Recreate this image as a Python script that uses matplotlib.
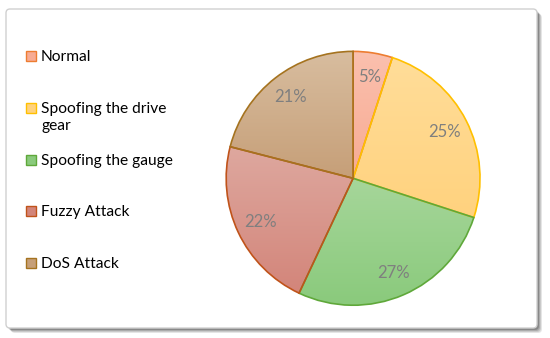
import numpy as np
import matplotlib
matplotlib.use("Agg")
import matplotlib.pyplot as plt
from matplotlib.patches import FancyBboxPatch, Rectangle
from matplotlib.colors import LinearSegmentedColormap

# data
categories = ["Normal", "Spoofing the drive\ngear", "Spoofing the gauge",
              "Fuzzy Attack", "DoS Attack"]
shares = [5, 25, 27, 22, 21]

# gradient fill (top, bottom) and outline per slice
fill_top = ["#FBC0AE", "#FFDD99", "#A6D69A", "#DEA89F", "#D8BD9F"]
fill_bot = ["#F7AB93", "#FFD27E", "#8ACA7C", "#D3857A", "#C69F78"]
edges = ["#ED7D31", "#FFC000", "#5FA83A", "#C0531A", "#A5731F"]

plt.rcParams['font.family'] = ['Lato', 'DejaVu Sans']

W, H = 550, 338
fig = plt.figure(figsize=(W / 100, H / 100), dpi=100)
fig.patch.set_facecolor("white")

# chart frame with soft shadow
for i, a in enumerate([0.10, 0.12, 0.15, 0.2]):
    off = 5 - i
    sh = FancyBboxPatch((6 + off, 10 - off), 531, 319,
                        boxstyle="round,pad=0,rounding_size=4",
                        transform=None, facecolor="#000000", alpha=a,
                        edgecolor="none", zorder=0)
    fig.add_artist(sh)
frame = FancyBboxPatch((6, 10), 531, 319, boxstyle="round,pad=0,rounding_size=4",
                       transform=None, facecolor="white", edgecolor="#D0D0D0",
                       linewidth=1.0, zorder=1)
fig.add_artist(frame)

ax = fig.add_axes([0.411, 0.097, 0.462, 0.751])
ax.set_zorder(2)
ax.patch.set_visible(False)

wedges, texts, autotexts = ax.pie(
    shares, startangle=90, counterclock=False, autopct='%1.0f%%',
    pctdistance=0.81, radius=1.0,
    wedgeprops=dict(linewidth=1.2, facecolor="none"),
    textprops=dict(color="#7F7F7F", fontsize=12))

for w, top, bot, ec in zip(wedges, fill_top, fill_bot, edges):
    w.set_edgecolor(ec)
    w.set_zorder(3)
    x0, y0, x1, y1 = w.get_path().get_extents().extents
    cmap = LinearSegmentedColormap.from_list("g", [bot, top])
    grad = np.linspace(0, 1, 256).reshape(-1, 1)
    im = ax.imshow(grad, extent=[x0, x1, y0, y1], origin="lower", cmap=cmap,
                   aspect="auto", zorder=1, interpolation="bilinear")
    im.set_clip_path(w)

for t in autotexts:
    t.set_zorder(5)

ax.set_xlim(-1.0, 1.0)
ax.set_ylim(-1.0, 1.0)
ax.set_aspect("equal")
ax.axis("off")

# legend, drawn by hand so that the first line of each entry sits on an even pitch
row0, pitch = 56, 51.75
for i, (name, fc, ec) in enumerate(zip(categories, fill_bot, edges)):
    yc = H - (row0 + i * pitch)
    fig.add_artist(Rectangle((26, yc - 5), 10, 10, transform=None,
                             facecolor=fc, edgecolor=ec, linewidth=1.0, zorder=4))
    fig.text(41 / W, (yc + 6) / H, name, fontsize=11.2, color="black",
             ha="left", va="top", linespacing=1.28, zorder=4)

fig.savefig("out.png", dpi=100)
